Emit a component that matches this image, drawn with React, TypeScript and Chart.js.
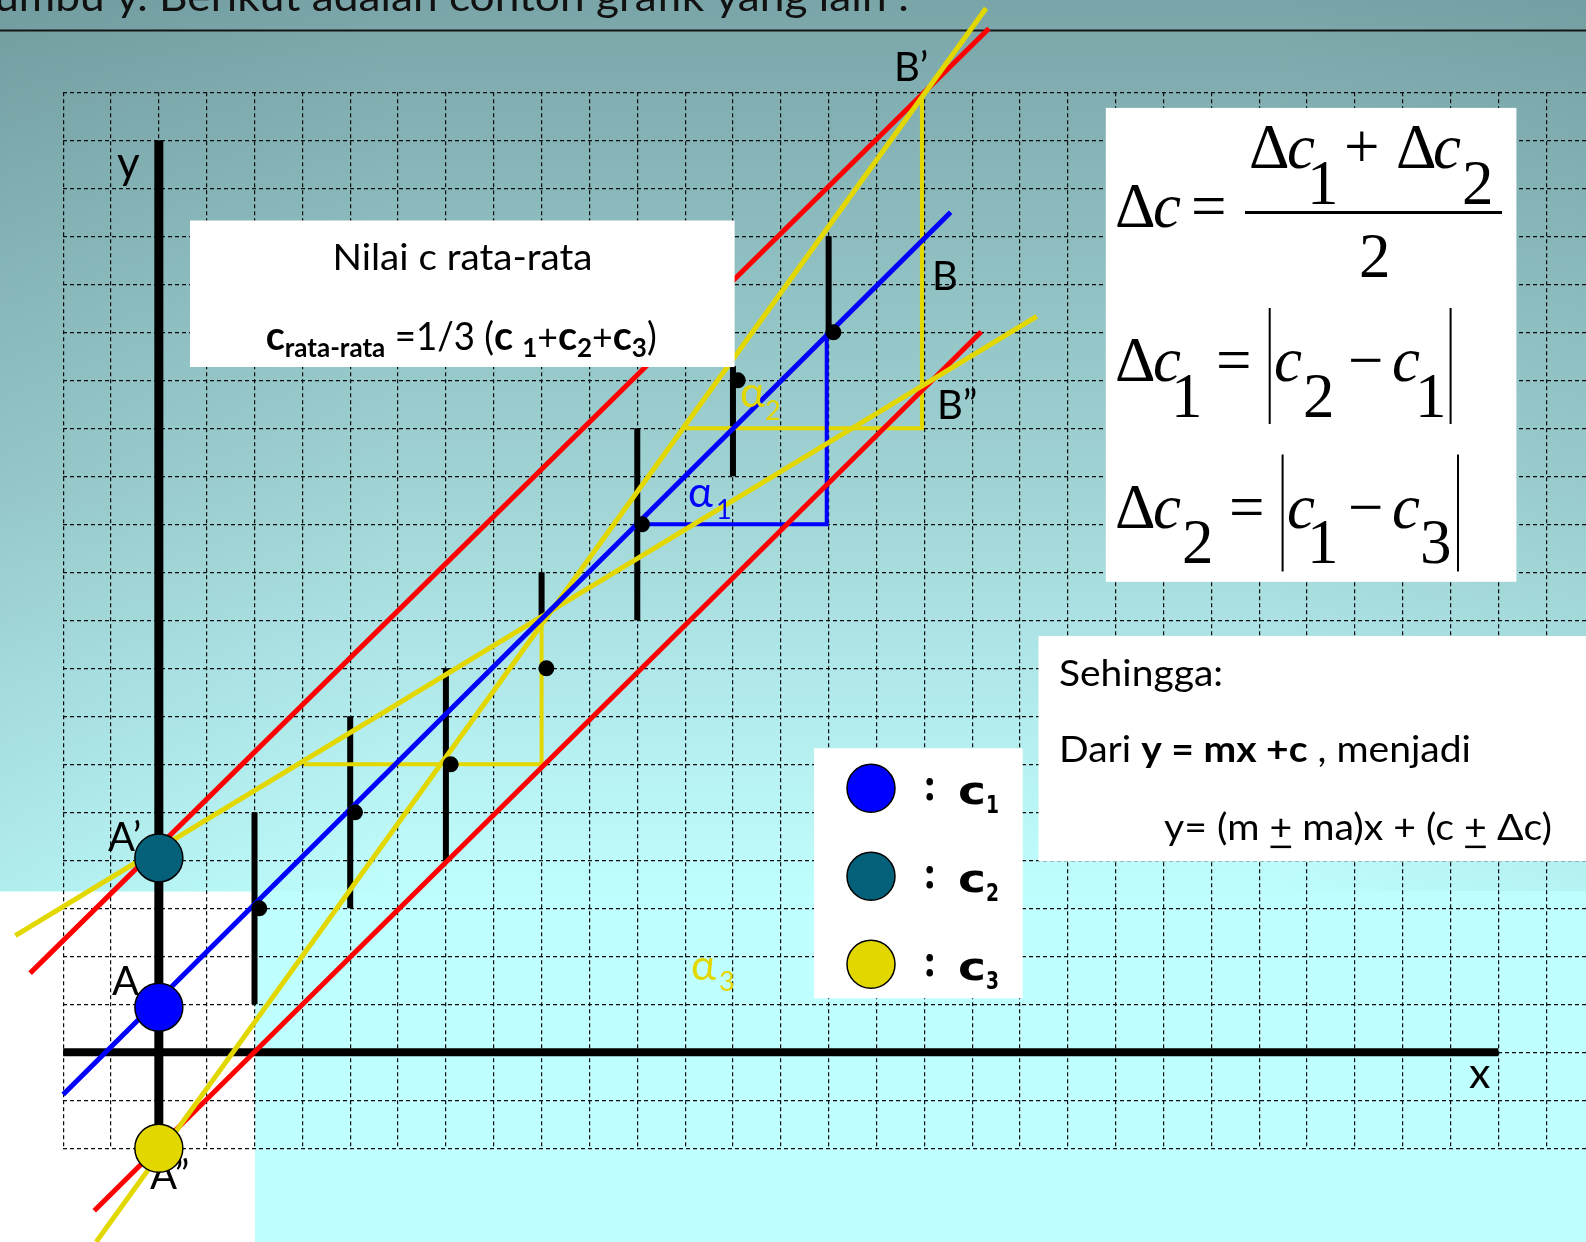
import React, { useEffect, useRef } from "react";
import { Chart, registerables } from "chart.js";

Chart.register(...registerables);

const W = 1586;
const H = 1242;
const SANS = "Lato, 'Open Sans', 'Noto Sans', 'DejaVu Sans', sans-serif";
const SERIF = "'Liberation Serif', 'DejaVu Serif', serif";
const BOLDSANS = "'DejaVu Sans', 'Noto Sans', sans-serif";

const BLUE = "#0000ff";
const TEAL = "#05607a";
const YELLOW = "#e2d800";
const RED = "#ff0000";

// ---------- data ----------
const xRange = [-2, 29.83];
const yRange = [-2, 20];

const xAxisX = [-2, 28];
const xAxisY = [0, 0];
const yAxisX = [0, 0];
const yAxisY = [-2, 19];

const barX = [2, 4, 6, 8, 10, 12, 14];
const barLow = [1, 3, 4, 9, 9, 12, 15];
const barHigh = [5, 7, 8, 10, 13, 14.3, 17];

const dotX = [2.1, 4.1, 6.1, 8.1, 10.1, 12.1, 14.1];
const dotY = [3, 5, 6, 8, 11, 14, 15];

const bestX = [-2, 16.55];
const bestY = [-0.88, 17.5];
const redUpX = [-2.69, 17.35];
const redUpY = [1.65, 21.33];
const redLowX = [-1.35, 17.19];
const redLowY = [-3.3, 15.01];
const ylSteepX = [-1.31, 17.29];
const ylSteepY = [-3.95, 21.75];
const ylFlatX = [-3.0, 18.35];
const ylFlatY = [2.43, 15.33];

const triBlueX = [10.1, 13.96, 13.96];
const triBlueY = [11, 11, 15];
const triLowX = [3.03, 8, 8];
const triLowY = [6, 6, 9];
const triUpX = [10.96, 15.95, 15.95];
const triUpY = [13, 13, 19.9];

const interceptX = [0, 0, 0];
const interceptY = [0.94, 4.05, -2];
const interceptColors = [BLUE, TEAL, YELLOW];

const legendNames = ["1", "2", "3"];
const legendColors = [BLUE, TEAL, YELLOW];

// ---------- helpers ----------
const seg = (xs: number[], ys: number[]) => xs.map((x, i) => ({ x, y: ys[i] }));

function lineDs(label: string, xs: number[], ys: number[], color: string, width: number) {
  return {
    label,
    data: seg(xs, ys),
    showLine: true,
    borderColor: color,
    backgroundColor: color,
    borderWidth: width,
    pointRadius: 0,
    pointHoverRadius: 0,
    pointHitRadius: 0,
    clip: false,
    tension: 0,
    borderCapStyle: "butt",
    borderJoinStyle: "miter",
  };
}

type Run = { t: string; font: string; dy?: number; underline?: boolean; color?: string };

function drawRuns(ctx: CanvasRenderingContext2D, runs: Run[], x: number, y: number, width: number, color = "#000") {
  ctx.save();
  ctx.textAlign = "left";
  ctx.textBaseline = "alphabetic";
  let total = 0;
  const ws = runs.map((r) => {
    ctx.font = r.font;
    const w = ctx.measureText(r.t).width;
    total += w;
    return w;
  });
  const s = width ? width / total : 1;
  ctx.translate(x, y);
  ctx.scale(s, 1);
  let cx = 0;
  runs.forEach((r, i) => {
    ctx.font = r.font;
    ctx.fillStyle = r.color || color;
    ctx.fillText(r.t, cx, r.dy || 0);
    if (r.underline) ctx.fillRect(cx + 1, (r.dy || 0) + 6, ws[i] - 2, 2.5);
    cx += ws[i];
  });
  ctx.restore();
}

function txt(ctx: CanvasRenderingContext2D, t: string, x: number, y: number, font: string, color = "#000") {
  ctx.save();
  ctx.font = font;
  ctx.fillStyle = color;
  ctx.textAlign = "left";
  ctx.textBaseline = "alphabetic";
  ctx.fillText(t, x, y);
  ctx.restore();
}

function whiteBox(ctx: CanvasRenderingContext2D, x0: number, y0: number, x1: number, y1: number) {
  ctx.save();
  ctx.fillStyle = "#ffffff";
  ctx.fillRect(x0, y0, x1 - x0, y1 - y0);
  ctx.restore();
}

const bgPlugin = {
  id: "bgPlugin",
  beforeDraw(chart: any) {
    const ctx: CanvasRenderingContext2D = chart.ctx;
    ctx.save();
    const g = ctx.createLinearGradient(0, 0, 0, H);
    g.addColorStop(0, "#7aa5a8");
    g.addColorStop(0.2, "#8ebec0");
    g.addColorStop(0.4, "#a1d4d5");
    g.addColorStop(0.55, "#b1e9ea");
    g.addColorStop(0.68, "#bdf9f9");
    g.addColorStop(0.73, "#c0ffff");
    g.addColorStop(1, "#c0ffff");
    ctx.fillStyle = g;
    ctx.fillRect(0, 0, W, H);
    const h = ctx.createLinearGradient(0, 0, W, 0);
    h.addColorStop(0, "rgba(30,70,75,0.09)");
    h.addColorStop(0.25, "rgba(30,70,75,0)");
    h.addColorStop(0.8, "rgba(30,70,75,0)");
    h.addColorStop(1, "rgba(30,70,75,0.06)");
    ctx.fillStyle = h;
    ctx.fillRect(0, 0, W, 891);
    ctx.fillStyle = "#ffffff";
    ctx.fillRect(0, 891.7, 255, H - 891.7);

    // title (cut at top)
    ctx.font = `40px ${SANS}`;
    const pre = "sumbu y. ";
    const rest = "Berikut adalah contoh grafik yang lain :";
    const wr = ctx.measureText(rest).width;
    const s = (909 - 159) / wr;
    const wp = ctx.measureText(pre).width * s;
    ctx.save();
    ctx.translate(159 - wp, 11);
    ctx.scale(s, 1);
    ctx.fillStyle = "#111";
    ctx.textBaseline = "alphabetic";
    ctx.fillText(pre + rest, 0, 0);
    ctx.restore();
    ctx.fillStyle = "#151515";
    ctx.fillRect(0, 29.5, W, 2);
    ctx.restore();
  },
  beforeDatasetsDraw(chart: any) {
    const ctx: CanvasRenderingContext2D = chart.ctx;
    const F = `40px ${SANS}`;
    txt(ctx, "y", 117, 178, `44px ${SANS}`);
    txt(ctx, "x", 1469, 1088, `43px ${SANS}`);
    txt(ctx, "A\u2019", 108, 851, F);
    txt(ctx, "A", 112, 995, F);
    txt(ctx, "A\u201D", 150, 1189, F);
    txt(ctx, "B\u2019", 894, 81, F);
    txt(ctx, "B", 932, 290, F);
    txt(ctx, "B\u201D", 937, 419, F);
  },
};

const overlayPlugin = {
  id: "overlayPlugin",
  afterDatasetsDraw(chart: any) {
    const ctx: CanvasRenderingContext2D = chart.ctx;

    // alpha labels
    txt(ctx, "\u03B1", 688, 507, `42px ${SANS}`, BLUE);
    txt(ctx, "1", 716, 519, `27px ${SANS}`, BLUE);
    txt(ctx, "\u03B1", 740, 407, `42px ${SANS}`, YELLOW);
    txt(ctx, "2", 765, 420, `27px ${SANS}`, YELLOW);
    txt(ctx, "\u03B1", 691, 980, `42px ${SANS}`, YELLOW);
    txt(ctx, "3", 719, 991, `27px ${SANS}`, YELLOW);

    // Nilai box
    whiteBox(ctx, 190, 220.5, 734.6, 367);
    drawRuns(ctx, [{ t: "Nilai c rata-rata", font: `37px ${SANS}` }], 332.5, 270, 260);
    const R = `37px ${SANS}`;
    const B = `bold 41px ${SANS}`;
    const S = `bold 27px ${SANS}`;
    drawRuns(
      ctx,
      [
        { t: "c", font: B },
        { t: "rata-rata", font: S, dy: 7 },
        { t: " =1/3 (", font: `38px ${SANS}` },
        { t: "c", font: B },
        { t: " ", font: R },
        { t: "1", font: S, dy: 7 },
        { t: "+", font: R },
        { t: "c", font: B },
        { t: "2", font: S, dy: 7 },
        { t: "+", font: R },
        { t: "c", font: B },
        { t: "3", font: S, dy: 7 },
        { t: ")", font: `38px ${SANS}` },
      ],
      265.7,
      350,
      391
    );

    // formula box
    whiteBox(ctx, 1105.8, 107.9, 1516.4, 581.8);
    const M = `63px ${SERIF}`;
    const MI = `italic 63px ${SERIF}`;
    // line 1
    txt(ctx, "\u0394", 1115, 227, M);
    txt(ctx, "c", 1153, 227, MI);
    txt(ctx, "=", 1191, 227, M);
    txt(ctx, "\u0394", 1249, 168, M);
    txt(ctx, "c", 1287, 168, MI);
    txt(ctx, "1", 1307, 203.6, M);
    txt(ctx, "+", 1344, 168, M);
    txt(ctx, "\u0394", 1396, 168, M);
    txt(ctx, "c", 1433, 168, MI);
    txt(ctx, "2", 1462, 203.6, M);
    ctx.save();
    ctx.fillStyle = "#000";
    ctx.fillRect(1245, 211, 257, 3);
    ctx.restore();
    txt(ctx, "2", 1359, 276.7, M);
    // line 2
    txt(ctx, "\u0394", 1115, 381.4, M);
    txt(ctx, "c", 1153, 381.4, MI);
    txt(ctx, "1", 1171, 417, M);
    txt(ctx, "=", 1216, 381.4, M);
    txt(ctx, "c", 1274, 381.4, MI);
    txt(ctx, "2", 1303, 417, M);
    txt(ctx, "\u2212", 1348, 381.4, M);
    txt(ctx, "c", 1392, 381.4, MI);
    txt(ctx, "1", 1415, 417, M);
    // line 3
    txt(ctx, "\u0394", 1115, 527.7, M);
    txt(ctx, "c", 1153, 527.7, MI);
    txt(ctx, "2", 1182, 563, M);
    txt(ctx, "=", 1229, 527.7, M);
    txt(ctx, "c", 1287, 527.7, MI);
    txt(ctx, "1", 1307, 563, M);
    txt(ctx, "\u2212", 1348, 527.7, M);
    txt(ctx, "c", 1392, 527.7, MI);
    txt(ctx, "3", 1420, 563, M);
    ctx.save();
    ctx.fillStyle = "#000";
    ctx.fillRect(1268.7, 308, 2, 116);
    ctx.fillRect(1449.6, 308, 2, 116);
    ctx.fillRect(1281.6, 454.5, 2, 117);
    ctx.fillRect(1457, 454.5, 2, 117);
    ctx.restore();

    // legend box
    whiteBox(ctx, 814, 748.3, 1022.7, 998.3);
    legendNames.forEach((n, i) => {
      const cy = 788.3 + i * 88;
      ctx.save();
      ctx.beginPath();
      ctx.arc(871, cy, 24, 0, Math.PI * 2);
      ctx.fillStyle = legendColors[i];
      ctx.fill();
      ctx.lineWidth = 1.5;
      ctx.strokeStyle = "#000";
      ctx.stroke();
      ctx.fillStyle = "#000";
      ctx.beginPath();
      ctx.ellipse(929.7, cy - 6.5, 3.3, 3.8, 0, 0, Math.PI * 2);
      ctx.fill();
      ctx.beginPath();
      ctx.ellipse(929.7, cy + 8.5, 3.3, 3.8, 0, 0, Math.PI * 2);
      ctx.fill();
      ctx.restore();
      drawRuns(ctx, [{ t: "c", font: `bold 38px ${BOLDSANS}` }], 958, cy + 15.7, 28);
      drawRuns(ctx, [{ t: n, font: `bold 24px ${BOLDSANS}` }], 986, cy + 25, 13);
    });

    // Sehingga box
    whiteBox(ctx, 1038.5, 636, 1586, 861);
    drawRuns(ctx, [{ t: "Sehingga:", font: R }], 1059, 686, 164);
    drawRuns(
      ctx,
      [
        { t: "Dari ", font: R },
        { t: "y = mx +c", font: `bold 37px ${SANS}` },
        { t: " , menjadi", font: R },
      ],
      1059,
      762,
      412
    );
    drawRuns(
      ctx,
      [
        { t: "y= (m ", font: R },
        { t: "+", font: R, underline: true },
        { t: " ma)x + (c ", font: R },
        { t: "+", font: R, underline: true },
        { t: " \u0394c)", font: R },
      ],
      1164,
      839.6,
      388
    );
  },
};

export default function App() {
  const ref = useRef<HTMLCanvasElement>(null);
  useEffect(() => {
    const canvas = ref.current;
    if (!canvas) return;

    const bars = barX.map((x, i) => lineDs(`bar${i}`, [x, x], [barLow[i], barHigh[i]], "#000", 6));

    const datasets: any[] = [
      {
        label: "intercepts",
        data: seg(interceptX, interceptY),
        showLine: false,
        pointRadius: 24,
        pointHoverRadius: 24,
        pointBackgroundColor: interceptColors,
        pointBorderColor: "#000",
        pointBorderWidth: 1.5,
        clip: false,
      },
      {
        label: "data",
        data: seg(dotX, dotY),
        showLine: false,
        pointRadius: 8,
        pointHoverRadius: 8,
        pointBackgroundColor: "#000",
        pointBorderColor: "#000",
        pointBorderWidth: 0,
        clip: false,
      },
      lineDs("best", bestX, bestY, BLUE, 5),
      lineDs("flat", ylFlatX, ylFlatY, YELLOW, 5),
      lineDs("steep", ylSteepX, ylSteepY, YELLOW, 5),
      lineDs("redUp", redUpX, redUpY, RED, 5),
      lineDs("redLow", redLowX, redLowY, RED, 5),
      lineDs("triBlue", triBlueX, triBlueY, BLUE, 4),
      lineDs("triLow", triLowX, triLowY, YELLOW, 4),
      lineDs("triUp", triUpX, triUpY, YELLOW, 4),
      ...bars,
      lineDs("xAxis", xAxisX, xAxisY, "#000", 8),
      lineDs("yAxis", yAxisX, yAxisY, "#000", 9),
    ];

    const gridScale = (min: number, max: number) => ({
      type: "linear",
      min,
      max,
      bounds: "data",
      ticks: { display: false, stepSize: 1, includeBounds: false, maxTicksLimit: 200 },
      grid: { color: "#080c0c", lineWidth: 1.2, drawTicks: false, drawOnChartArea: true },
      border: { display: false, dash: [4, 3] },
      title: { display: false },
    });

    const chart = new Chart(canvas, {
      type: "scatter",
      data: { datasets },
      options: {
        responsive: false,
        maintainAspectRatio: false,
        animation: false,
        devicePixelRatio: 1,
        events: [],
        layout: { padding: { left: 63.15, top: 92.3, right: 0, bottom: H - 1148.3 }, autoPadding: false },
        plugins: { legend: { display: false }, tooltip: { enabled: false }, title: { display: false } },
        scales: {
          x: gridScale(xRange[0], xRange[1]),
          y: gridScale(yRange[0], yRange[1]),
        },
      } as any,
      plugins: [bgPlugin, overlayPlugin],
    });
    return () => chart.destroy();
  }, []);

  return (
    <div style={{ position: "absolute", left: 0, top: 0, width: W, height: H, overflow: "hidden" }}>
      <canvas ref={ref} width={W} height={H} style={{ display: "block", width: W, height: H }} />
    </div>
  );
}
